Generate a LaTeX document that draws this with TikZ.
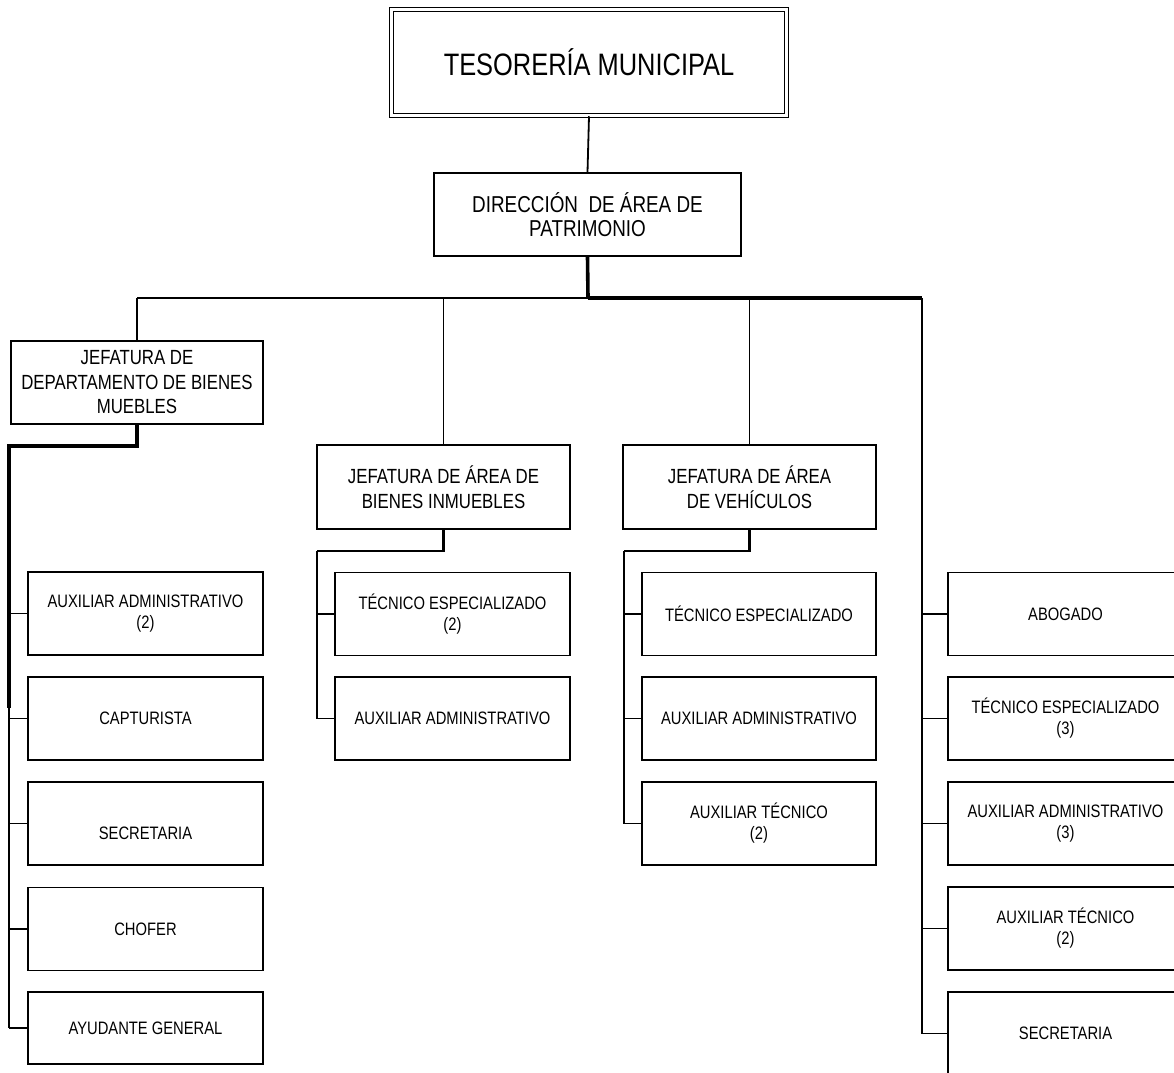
\documentclass[tikz,border=0pt]{standalone}
\usepackage{fontspec}
\newfontfamily\orgfont[FakeStretch=0.82]{Liberation Sans}
\begin{document}
\begin{tikzpicture}[x=1pt,y=-1pt,
  box/.style={draw, line width=1.8pt, rectangle, align=center, inner sep=0pt},
  titlebox/.style={box, double, double distance=2.2pt, line width=1.5pt,
    minimum width=395pt, minimum height=106pt,
    font=\orgfont\fontsize{31}{34}\selectfont},
  dirbox/.style={box, minimum width=307pt, minimum height=83pt,
    font=\orgfont\fontsize{23}{23.5}\selectfont},
  headbox/.style={box, minimum width=253pt, minimum height=84pt,
    font=\orgfont\fontsize{20.5}{24.5}\selectfont},
  unitbox/.style={box, minimum width=235pt, minimum height=83pt,
    font=\orgfont\fontsize{18}{21}\selectfont},
  thin/.style={line width=1.8pt},
  mid/.style={line width=2.4pt},
  heavy/.style={line width=3.6pt}
]
\useasboundingbox (0,0) rectangle (1174,1072);
\clip (0,0) rectangle (1174,1072);
\fill[white] (0,0) rectangle (1174,1072);

% top levels
\node[titlebox] (tes) at (589,62.5) {TESORERÍA MUNICIPAL};
\node[dirbox] (dir) at (587.5,214.5) {DIRECCIÓN~ DE ÁREA DE\\PATRIMONIO};

% heads of area
\node[headbox, minimum width=252pt, minimum height=83pt] (jdep) at (137,382.5)
  {JEFATURA DE\\DEPARTAMENTO DE BIENES\\MUEBLES};
\node[headbox] (jinm) at (443.5,487) {JEFATURA DE ÁREA DE\\BIENES INMUEBLES};
\node[headbox] (jveh) at (749.5,487) {JEFATURA DE ÁREA\\DE VEHÍCULOS};

% bienes muebles staff
\node[unitbox] (m1) at (145.5,613.5) {AUXILIAR ADMINISTRATIVO\\(2)};
\node[unitbox] (m2) at (145.5,718.5) {CAPTURISTA};
\node[unitbox] (m3) at (145.5,823.5) {\raisebox{-10pt}[\height][\depth]{SECRETARIA}};
\node[unitbox] (m4) at (145.5,929) {CHOFER};
\node[unitbox, minimum height=72pt] (m5) at (145.5,1028) {AYUDANTE GENERAL};

% bienes inmuebles staff
\node[unitbox] (i1) at (452.5,614) {TÉCNICO ESPECIALIZADO\\(2)};
\node[unitbox] (i2) at (452.5,718.5) {AUXILIAR ADMINISTRATIVO};

% vehiculos staff
\node[unitbox, minimum width=234pt] (v1) at (759,614) {TÉCNICO ESPECIALIZADO};
\node[unitbox, minimum width=234pt] (v2) at (759,718.5) {AUXILIAR ADMINISTRATIVO};
\node[unitbox, minimum width=234pt] (v3) at (759,823.5) {AUXILIAR TÉCNICO\\(2)};

% staff attached directly to the direction
\node[unitbox] (d1) at (1065.5,614) {ABOGADO};
\node[unitbox] (d2) at (1065.5,718.5) {TÉCNICO ESPECIALIZADO\\(3)};
\node[unitbox] (d3) at (1065.5,823.5) {AUXILIAR ADMINISTRATIVO\\(3)};
\node[unitbox] (d4) at (1065.5,928.5) {AUXILIAR TÉCNICO\\(2)};
\node[unitbox] (d5) at (1065.5,1033.5) {SECRETARIA};

% bus coordinates
\coordinate (hub) at (588,298);
\coordinate (busL) at (137,298);
\coordinate (busR) at (922,298);
\coordinate (mA) at (137,446);
\coordinate (mB) at (9,446);
\coordinate (mC) at (9,708);
\coordinate (mD) at (9,1028);
\coordinate (iA) at (443.5,551);
\coordinate (iB) at (317,551);
\coordinate (iC) at (317,718.5);
\coordinate (vA) at (749.5,551);
\coordinate (vB) at (624,551);
\coordinate (vC) at (624,823.5);
\coordinate (rC) at (922,1033.5);

% main trunk
\draw[thin] (tes.south) -- (dir.north);
\draw[heavy] (dir.south) -- (hub);
\draw[thin] (busL) -- (hub);
\draw[heavy] (hub) -- (busR);
\draw[line width=2.1pt] (busR) -- (rC);
\draw[thin] (busL) -- (jdep.north);
\draw[thin] (jinm.north |- hub) -- (jinm.north);
\draw[thin] (jveh.north |- hub) -- (jveh.north);

% bienes muebles branch
\draw[line width=3.2pt] (jdep.south) -- (mA) -- (mB) -- (mC);
\draw[thin] (mC) -- (mD);
\foreach \n in {m1,m2,m3,m4,m5} \draw[thin] (mB |- \n.west) -- (\n.west);

% bienes inmuebles branch
\draw[mid] (jinm.south) -- (iA) -- (iB);
\draw[thin] (iB) -- (iC);
\foreach \n in {i1,i2} \draw[thin] (iB |- \n.west) -- (\n.west);

% vehiculos branch
\draw[mid] (jveh.south) -- (vA) -- (vB);
\draw[thin] (vB) -- (vC);
\foreach \n in {v1,v2,v3} \draw[thin] (vB |- \n.west) -- (\n.west);

% direct staff
\foreach \n in {d1,d2,d3,d4,d5} \draw[thin] (busR |- \n.west) -- (\n.west);
\end{tikzpicture}
\end{document}
